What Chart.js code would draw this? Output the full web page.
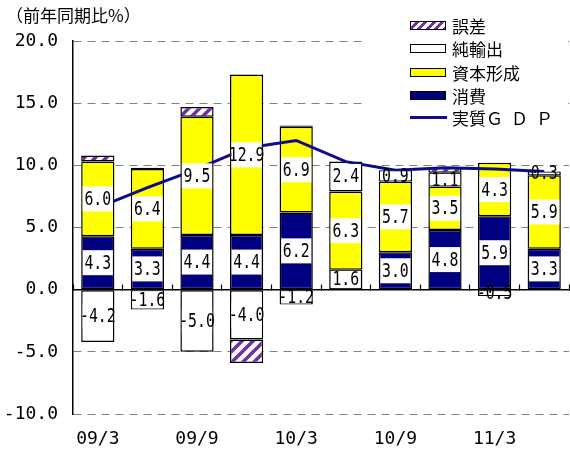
<!DOCTYPE html>
<html><head><meta charset="utf-8">
<script src="https://cdn.jsdelivr.net/npm/chart.js@4/dist/chart.umd.min.js"></script>
<style>
html,body{margin:0;padding:0;background:#fff;}
#wrap{position:relative;width:570px;height:452px;}
canvas{display:block;}
#legend{position:absolute;left:362px;top:6px;width:206px;height:122px;background:#fff;font-family:"Noto Sans CJK JP";font-size:17px;color:#000;}
.row{position:absolute;left:48px;height:20px;display:flex;align-items:center;white-space:nowrap;}
.sw{width:36px;height:9px;border:1.5px solid #000;box-sizing:border-box;margin-right:6px;}
.ln{width:37px;height:3px;background:#0d0d8c;margin-right:5px;}
</style></head>
<body>
<div id="wrap">
<canvas id="c" width="570" height="452"></canvas>
<div id="legend">
  <div class="row" style="top:9px"><div class="sw" style="background:repeating-linear-gradient(135deg,#fff 0 3px,#7030a0 3px 6px)"></div>誤差</div>
  <div class="row" style="top:32px"><div class="sw" style="background:#fff"></div>純輸出</div>
  <div class="row" style="top:56px"><div class="sw" style="background:#ffff00"></div>資本形成</div>
  <div class="row" style="top:79px"><div class="sw" style="background:#000080"></div>消費</div>
  <div class="row" style="top:101px"><div class="ln"></div>実質<span style="letter-spacing:8px">ＧＤＰ</span></div>
</div>
</div>
<script>
const categories = ['09/3','09/6','09/9','09/12','10/3','10/6','10/9','10/12','11/3','11/6'];
const consumption = [4.3, 3.3, 4.4, 4.4, 6.2, 1.6, 3.0, 4.8, 5.9, 3.3];
const capitalFormation = [6.0, 6.4, 9.5, 12.9, 6.9, 6.3, 5.7, 3.5, 4.3, 5.9];
const netExports = [-4.2, -1.6, -5.0, -4.0, -1.2, 2.4, 0.9, 1.1, -0.5, 0.3];
const residual = [0.5, 0.1, 0.8, -1.9, 0.1, 0, 0, 0.4, 0, 0];
const realGDP = [6.6, 8.2, 9.7, 11.4, 12.0, 10.3, 9.6, 9.8, 9.7, 9.5];
const yTickValues = [-10, -5, 0, 5, 10, 15, 20];
const shownXLabels = ['09/3','09/9','10/3','10/9','11/3'];

function hatchPattern(){
  const s = 11;
  const c = document.createElement('canvas'); c.width = s; c.height = s;
  const g = c.getContext('2d');
  g.fillStyle = '#fff'; g.fillRect(0,0,s,s);
  g.strokeStyle = '#7030a0'; g.lineWidth = 3.5;
  g.beginPath();
  g.moveTo(-s/2, s/2); g.lineTo(s/2, -s/2);
  g.moveTo(0, s); g.lineTo(s, 0);
  g.moveTo(s/2, s*1.5); g.lineTo(s*1.5, s/2);
  g.stroke();
  return c.getContext('2d').createPattern(c, 'repeat');
}

const segLabels = {
  id: 'segLabels',
  afterDatasetsDraw(chart){
    const ctx = chart.ctx;
    chart.data.datasets.forEach((ds, i) => {
      if (!ds.showLabels) return;
      const meta = chart.getDatasetMeta(i);
      meta.data.forEach((bar, j) => {
        const v = ds.data[j];
        if (!v) return;
        const p = bar.getProps(['x','y','base','width'], true);
        const top = Math.min(p.y, p.base), bot = Math.max(p.y, p.base);
        const cy = (top + bot) / 2;
        const w = p.width - 3;
        const by1 = Math.max(top + 1, cy - 12.5), by2 = Math.min(bot - 1, cy + 12.5);
        ctx.save();
        if (by2 > by1) { ctx.fillStyle = '#fff'; ctx.fillRect(p.x - w/2, by1, w, by2 - by1); }
        ctx.translate(p.x, cy + 1);
        ctx.scale(0.78, 1);
        ctx.font = '19px "DejaVu Sans Mono"';
        ctx.textAlign = 'center'; ctx.textBaseline = 'middle'; ctx.fillStyle = '#000';
        ctx.fillText(v.toFixed(1), 0, 0);
        ctx.restore();
      });
    });
  }
};

const bw = c => (c.raw ? 1.5 : 0);
const tickFont = {family: 'DejaVu Sans Mono', size: 18};

new Chart(document.getElementById('c'), {
  type: 'bar',
  data: {
    labels: categories,
    datasets: [
      {type:'line', label:'実質ＧＤＰ', data: realGDP, borderColor:'#0d0d8c', borderWidth:3, pointRadius:0, tension:0, order:0, fill:false},
      {label:'消費', data: consumption, backgroundColor:'#000080', borderColor:'#000', borderWidth:bw, borderSkipped:false, stack:'s', order:1, showLabels:true},
      {label:'資本形成', data: capitalFormation, backgroundColor:'#ffff00', borderColor:'#000', borderWidth:bw, borderSkipped:false, stack:'s', order:1, showLabels:true},
      {label:'純輸出', data: netExports, backgroundColor:'#ffffff', borderColor:'#000', borderWidth:bw, borderSkipped:false, stack:'s', order:1, showLabels:true},
      {label:'誤差', data: residual, backgroundColor: hatchPattern(), borderColor:'#000', borderWidth:bw, borderSkipped:false, stack:'s', order:1}
    ]
  },
  options: {
    responsive:false, animation:false,
    datasets: {bar: {categoryPercentage:1, barPercentage:0.67}},
    layout: {padding: {left:6, right:1, top:0, bottom:2.6}},
    plugins: {
      legend: {display:false}, tooltip: {enabled:false},
      title: {display:true, text:'（前年同期比%）', align:'start', color:'#000',
        font:{family:'Noto Sans CJK JP', size:17, weight:'normal', lineHeight:1.2}, padding:{top:5, bottom:15.6}}
    },
    scales: {
      x: {stacked:true, offset:true, grid:{display:false, drawTicks:false}, border:{display:false},
        afterFit: s => { s.height = 35.4; },
        ticks:{autoSkip:false, maxRotation:0, padding:15, color:'#000', font:tickFont,
          callback:(v,i)=> shownXLabels.includes(categories[i]) ? categories[i] : ''}},
      x2: {type:'category', labels:categories, position:{y:0}, offset:true,
        afterFit: s => { s.height = 0; },
        grid:{offset:true, drawOnChartArea:false, drawTicks:true, tickLength:-6, tickColor:'#000', tickWidth:1.2, color:'#000'},
        border:{display:true, color:'#000', width:1.5}, ticks:{display:false}},
      y: {stacked:true, min:-10, max:20,
        afterFit: s => { s.width = 67; },
        afterBuildTicks: s => { s.ticks = yTickValues.map(v => ({value:v})); },
        ticks:{padding:15, color:'#000', font:tickFont, callback: v => v.toFixed(1)},
        grid:{color:'#808080', lineWidth:1, drawTicks:false},
        border:{display:true, color:'#000', width:1.5, dash:[8,6]}}
    }
  },
  plugins: [segLabels]
});
</script>
</body></html>
